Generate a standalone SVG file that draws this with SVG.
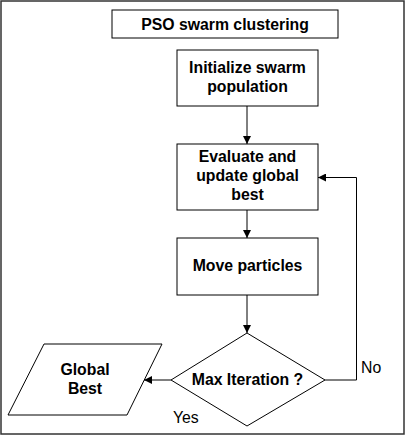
<svg xmlns="http://www.w3.org/2000/svg" width="405" height="435" viewBox="0 0 405 435">
<defs>
<style>
.box{fill:#fff;stroke:#000;stroke-width:1}
.t{font-family:"Liberation Sans",Arial,sans-serif;font-size:15.8px;font-weight:bold;text-anchor:middle;fill:#000}
.l{font-family:"Liberation Sans",Arial,sans-serif;font-size:15.8px;fill:#000}
.c{fill:none;stroke:#000;stroke-width:1}
</style>
<marker id="ah" viewBox="0 0 10 10" refX="10" refY="5" markerWidth="8" markerHeight="8" markerUnits="userSpaceOnUse" orient="auto">
<path d="M0,0 L10,5 L0,10 z" fill="#000"/>
</marker>
</defs>
<rect x="1" y="1" width="403" height="433" fill="#fff" stroke="#333" stroke-width="1.5"/>
<g id="title"><rect class="box" x="112" y="10" width="226" height="28"/><text class="t" x="225" y="30">PSO swarm clustering</text></g>
<g id="init"><rect class="box" x="177" y="50" width="141" height="56"/><text class="t" x="247.5" y="73">Initialize swarm</text><text class="t" x="247.5" y="92">population</text></g>
<g id="eval"><rect class="box" x="177" y="144" width="141" height="66"/><text class="t" x="247.5" y="162">Evaluate and</text><text class="t" x="247.5" y="181">update global</text><text class="t" x="247.5" y="200">best</text></g>
<g id="move"><rect class="box" x="177" y="238" width="141" height="57"/><text class="t" x="247.5" y="271">Move particles</text></g>
<g id="decision"><polygon class="box" points="247,333 325,380 247,426 171,380"/><text class="t" x="247.5" y="385">Max Iteration ?</text></g>
<g id="result"><polygon class="box" points="44,344 162,344 127,415 8,415"/><text class="t" x="85" y="375">Global</text><text class="t" x="85" y="394">Best</text></g>
<g id="connectors">
<line class="c" x1="247" y1="106" x2="247" y2="144" marker-end="url(#ah)"/>
<line class="c" x1="247" y1="210" x2="247" y2="238" marker-end="url(#ah)"/>
<line class="c" x1="247" y1="295" x2="247" y2="333" marker-end="url(#ah)"/>
<polyline class="c" points="325,380 356.5,380 356.5,177.5 318,177.5" marker-end="url(#ah)"/>
<line class="c" x1="171" y1="380" x2="144" y2="380" marker-end="url(#ah)"/>
<text class="l" x="361" y="373">No</text>
<text class="l" x="173" y="423">Yes</text>
</g>
</svg>
